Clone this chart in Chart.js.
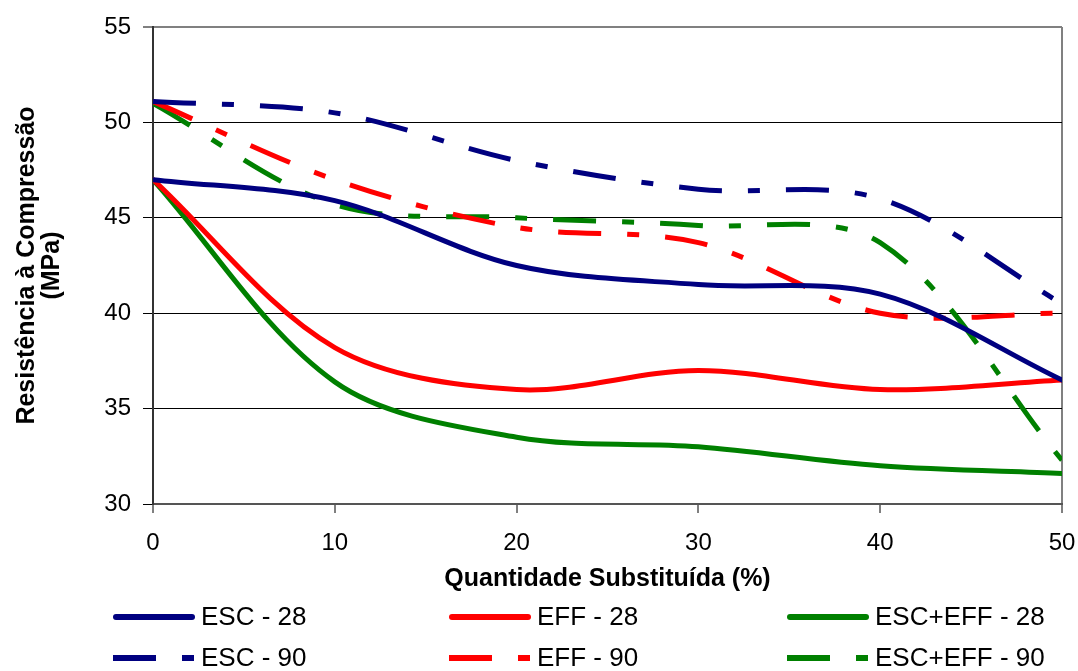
<!DOCTYPE html>
<html>
<head>
<meta charset="utf-8">
<script src="https://cdn.jsdelivr.net/npm/chart.js@4"></script>
<style>
  html, body { margin: 0; padding: 0; background: #fff; overflow: hidden; }
  #wrap { width: 1078px; height: 671px; position: relative; }
  canvas { display: block; }
</style>
</head>
<body>
<div id="wrap"><canvas id="myChart"></canvas></div>
<script>
// data (x = % substituted)
var xValues = [0, 10, 20, 30, 40, 50];
var esc28 = [47.0, 45.9, 42.5, 41.5, 41.0, 36.5];
var eff28 = [47.0, 38.2, 36.0, 37.0, 36.0, 36.5];
var escEff28 = [47.0, 36.4, 33.5, 33.0, 32.0, 31.6];
var esc90 = [51.1, 50.5, 48.0, 46.5, 46.0, 40.5];
var eff90 = [51.1, 47.0, 44.5, 43.7, 40.0, 40.0];
var escEff90 = [51.0, 45.7, 45.0, 44.6, 43.7, 32.3];
var seriesLabels = ['ESC - 28', 'EFF - 28', 'ESC+EFF - 28', 'ESC - 90', 'EFF - 90', 'ESC+EFF - 90'];

var fontName = '"Liberation Sans", Arial, sans-serif';
var dashDot = [43, 26, 12, 26];

function pts(arr) {
    return arr.map(function (v, i) { return {x: xValues[i], y: v}; });
}

function makeSet(label, values, color, dashed) {
    return {
        label: label,
        data: pts(values),
        borderColor: color,
        backgroundColor: color,
        borderWidth: 5,
        borderDash: dashed ? dashDot : [],
        borderCapStyle: dashed ? 'butt' : 'round',
        pointRadius: 0,
        tension: 0.33,
        fill: false
    };
}

// legend drawn as a 3 x 2 grid like the original
var gridLegend = {
    id: 'gridLegend',
    afterDraw: function (chart) {
        var ctx = chart.ctx;
        var cols = [113, 449, 787];
        var rows = [617, 658];
        ctx.save();
        ctx.font = '26px ' + fontName;
        ctx.textBaseline = 'middle';
        ctx.fillStyle = '#000';
        chart.data.datasets.forEach(function (ds, i) {
            var x = cols[i % 3];
            var y = rows[Math.floor(i / 3)];
            var dashed = ds.borderDash.length > 0;
            ctx.strokeStyle = ds.borderColor;
            ctx.lineWidth = 6;
            ctx.lineCap = dashed ? 'butt' : 'round';
            ctx.setLineDash(ds.borderDash);
            ctx.beginPath();
            ctx.moveTo(x + (dashed ? 0 : 3), y);
            ctx.lineTo(x + 82 - (dashed ? 0 : 3), y);
            ctx.stroke();
            ctx.setLineDash([]);
            ctx.fillText(ds.label, x + 88, y + 1);
        });
        ctx.restore();
    }
};

var config = {
    type: 'line',
    data: {
        datasets: [
            makeSet(seriesLabels[0], esc28, '#000080', false),
            makeSet(seriesLabels[1], eff28, '#FF0000', false),
            makeSet(seriesLabels[2], escEff28, '#008000', false),
            makeSet(seriesLabels[3], esc90, '#000080', true),
            makeSet(seriesLabels[4], eff90, '#FF0000', true),
            makeSet(seriesLabels[5], escEff90, '#008000', true)
        ]
    },
    options: {
        responsive: true,
        maintainAspectRatio: false,
        animation: false,
        devicePixelRatio: 1,
        layout: {padding: {top: 27, right: 16, bottom: 71, left: 0}},
        plugins: {
            legend: {display: false},
            tooltip: {enabled: false}
        },
        scales: {
            x: {
                type: 'linear',
                min: 0,
                max: 50,
                afterFit: function (scale) {
                    scale.height = 96;
                    scale.paddingLeft = 0;
                    scale.paddingRight = 0;
                },
                ticks: {
                    stepSize: 10,
                    color: '#000',
                    padding: 16,
                    font: {family: fontName, size: 24}
                },
                grid: {
                    drawOnChartArea: true,
                    color: function (c) { return c.tick && c.tick.value === 50 ? '#808080' : 'rgba(0,0,0,0)'; },
                    lineWidth: 2,
                    tickLength: 9,
                    tickColor: '#000',
                    tickWidth: 1
                },
                border: {color: '#555', width: 2},
                title: {
                    display: true,
                    text: 'Quantidade Substituída (%)',
                    color: '#000',
                    padding: {top: 0, bottom: 8},
                    font: {family: fontName, size: 25, weight: 'bold', lineHeight: 1}
                }
            },
            y: {
                min: 30,
                max: 55,
                afterFit: function (scale) { scale.width = 153; },
                ticks: {
                    stepSize: 5,
                    color: '#000',
                    padding: 12,
                    font: {family: fontName, size: 24}
                },
                grid: {
                    color: function (c) { return c.tick && c.tick.value === 55 ? '#808080' : '#000'; },
                    lineWidth: function (c) { return c.tick && c.tick.value === 55 ? 2 : 1; },
                    tickLength: 10,
                    tickColor: '#000',
                    tickWidth: 1
                },
                border: {color: '#333', width: 2},
                title: {
                    display: true,
                    text: ['Resistência à Compressão', '(MPa)'],
                    color: '#000',
                    padding: {top: 15, bottom: 0},
                    font: {family: fontName, size: 25, weight: 'bold', lineHeight: 1}
                }
            }
        }
    },
    plugins: [gridLegend]
};

var myChart = new Chart(document.getElementById('myChart'), config);
</script>
</body>
</html>
